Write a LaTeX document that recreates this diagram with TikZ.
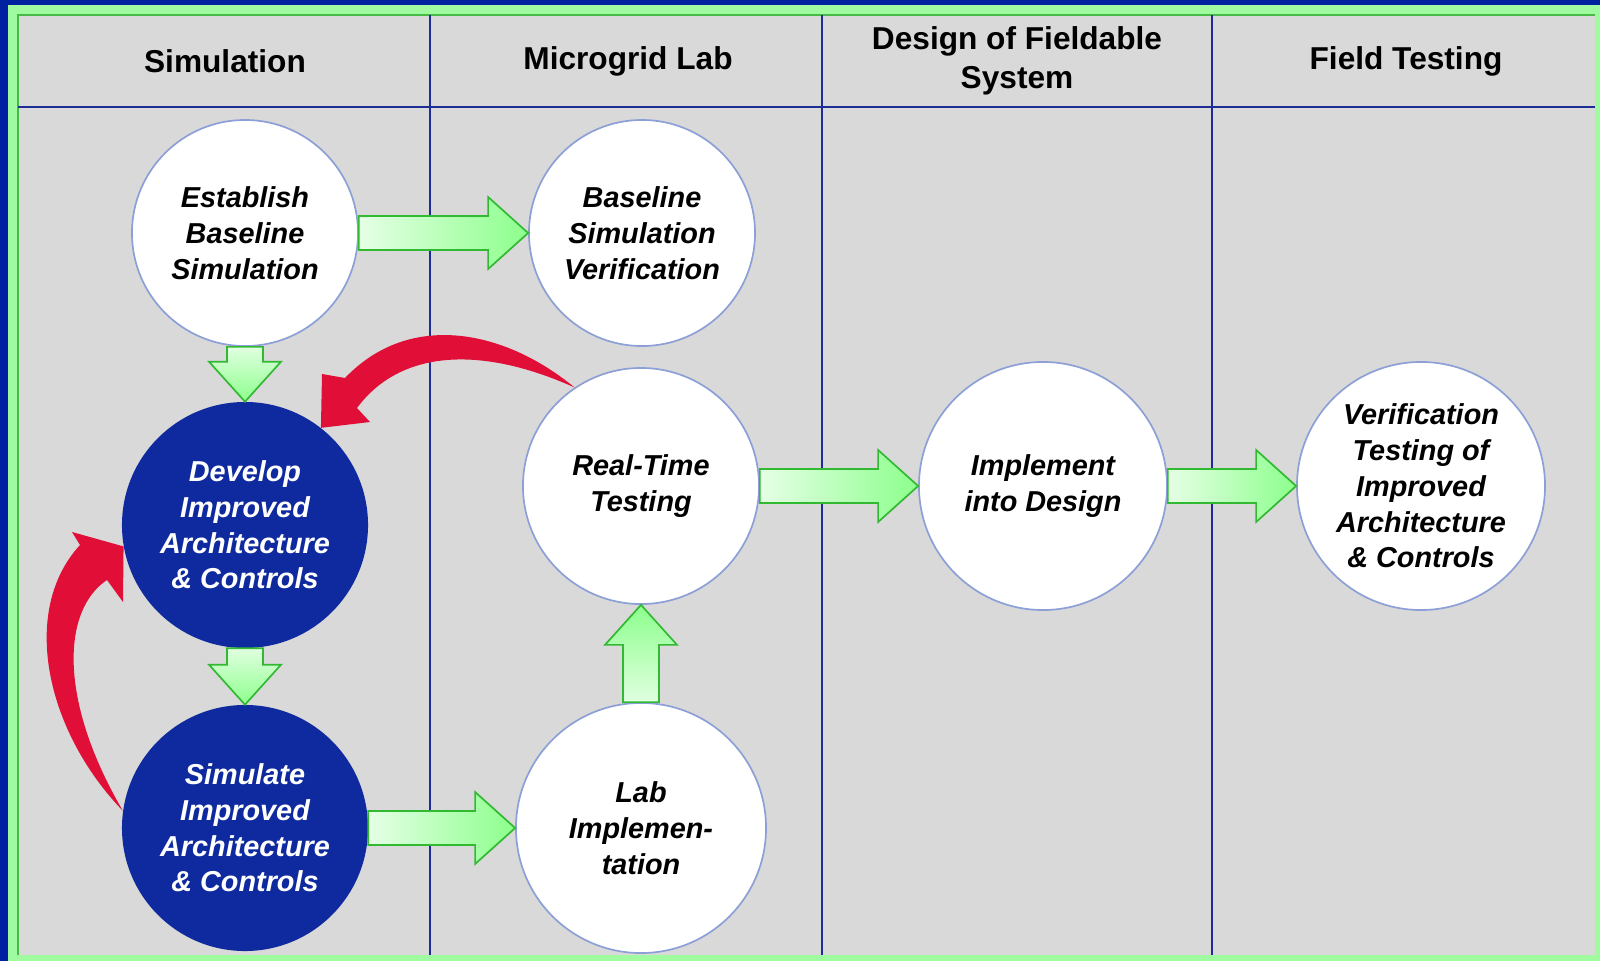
\documentclass[tikz,border=0pt]{standalone}
\usepackage{fontspec}
\setmainfont{Liberation Sans}
\usetikzlibrary{calc}
\definecolor{frameblue}{RGB}{0,34,160}
\definecolor{framegreen}{RGB}{160,250,160}
\definecolor{lanegray}{RGB}{217,217,217}
\definecolor{laneline}{RGB}{30,45,150}
\definecolor{ringblue}{RGB}{140,160,215}
\definecolor{ballblue}{RGB}{14,42,158}
\definecolor{ballrim}{RGB}{55,95,215}
\definecolor{arrowgreen}{RGB}{50,185,50}
\definecolor{loopred}{RGB}{225,15,55}
\pgfdeclareradialshading{whiteball}{\pgfpoint{0bp}{0bp}}{color(0bp)=(white); color(30bp)=(white); color(44bp)=(gray!8); color(50bp)=(gray!28)}
\pgfdeclareradialshading{blueball}{\pgfpoint{0bp}{0bp}}{color(0bp)=(ballblue); color(36bp)=(ballblue); color(46bp)=(ballrim); color(50bp)=(ballrim!75!white)}
\tikzset{
  lane/.style={draw=laneline, line width=1.6pt},
  header/.style={font=\fontsize{22.5}{27.5}\selectfont\bfseries, align=center},
  stepwhite/.style={circle, draw=ringblue, line width=1.2pt, shading=whiteball, align=center, inner sep=0pt, font=\fontsize{20.5}{25.4}\selectfont\bfseries\itshape},
  stepblue/.style={circle, shading=blueball, text=white, align=center, inner sep=0pt, font=\fontsize{20.5}{25.4}\selectfont\bfseries\itshape},
  blockarrow/.style={draw=arrowgreen, line width=1.2pt, line join=miter},
  redloop/.style={fill=loopred}
}
% green block arrows: start point, tip
\newcommand{\rightblock}[2]{%
  \draw[blockarrow, left color=green!10, right color=green!45] ($(#1)+(0,-17)$) -- ($(#2)+(-40,-17)$) -- ($(#2)+(-40,-36)$) -- (#2) -- ($(#2)+(-40,36)$) -- ($(#2)+(-40,17)$) -- ($(#1)+(0,17)$) -- cycle;}
\newcommand{\downblock}[2]{%
  \draw[blockarrow, top color=green!12, bottom color=green!45] ($(#1)+(-18,0)$) -- ($(#2)+(-18,-40)$) -- ($(#2)+(-36,-40)$) -- (#2) -- ($(#2)+(36,-40)$) -- ($(#2)+(18,-40)$) -- ($(#1)+(18,0)$) -- cycle;}
\newcommand{\upblock}[2]{%
  \draw[blockarrow, bottom color=green!12, top color=green!45] ($(#1)+(-18,0)$) -- ($(#2)+(-18,40)$) -- ($(#2)+(-36,40)$) -- (#2) -- ($(#2)+(36,40)$) -- ($(#2)+(18,40)$) -- ($(#1)+(18,0)$) -- cycle;}

\begin{document}
\begin{tikzpicture}[x=0.025cm,y=-0.025cm]
  \useasboundingbox (0,0) rectangle (1600,961);
  % frame and lanes
  \fill[frameblue] (0,0) rectangle (1600,961);
  \fill[framegreen] (8,5) rectangle (1600,961);
  \fill[lanegray] (18,15) rectangle (1595,955);
  \draw[green!45!gray, line width=1pt] (18,955) -- (18,15) -- (1595,15);
  \draw[lane] (18,107) -- (1595,107);
  \draw[lane] (430,15) -- (430,955);
  \draw[lane] (822,15) -- (822,955);
  \draw[lane] (1212,15) -- (1212,955);

  \node[header] (hsim) at (225,61) {Simulation};
  \node[header] (hlab) at (628,61) {Microgrid Lab};
  \node[header] (hdes) at (1017,61) {Design of Fieldable\\System};
  \node[header] (hfield) at (1406,61) {Field Testing};

  \node[stepwhite, minimum size=5.65cm] (est) at (245,233) {Establish\\Baseline\\Simulation};
  \node[stepwhite, minimum size=5.65cm] (basever) at (642,233) {Baseline\\Simulation\\Verification};
  \node[stepblue, minimum size=6.15cm] (develop) at (245,525) {Develop\\Improved\\Architecture\\\& Controls};
  \node[stepblue, minimum size=6.15cm] (simulate) at (245,828) {Simulate\\Improved\\Architecture\\\& Controls};
  \node[stepwhite, minimum size=5.9cm] (rtt) at (641,486) {Real-Time\\Testing};
  \node[stepwhite, minimum size=6.25cm] (labimpl) at (641,828) {Lab\\Implemen-\\tation};
  \node[stepwhite, minimum size=6.2cm] (implement) at (1043,486) {Implement\\into Design};
  \node[stepwhite, minimum size=6.2cm] (verif) at (1421,486) {Verification\\Testing of\\Improved\\Architecture\\\& Controls};

  \rightblock{est.east}{basever.west}
  \downblock{est.south}{develop.north}
  \downblock{develop.south}{simulate.north}
  \rightblock{simulate.east}{labimpl.west}
  \upblock{labimpl.north}{rtt.south}
  \rightblock{rtt.east}{implement.west}
  \rightblock{implement.east}{verif.west}

  % feedback loops
  \fill[redloop] (rtt.124) .. controls (505,330) and (410,310) .. (345,378) -- (322,374) -- (develop.52) -- (370,422) -- (357,408) .. controls (400,350) and (480,345) .. (rtt.124);
  \fill[redloop] (simulate.172) .. controls (45,730) and (20,610) .. (80,545) -- (72,532) -- (develop.190) -- (123,602) -- (107,580) .. controls (62,610) and (58,700) .. (simulate.172);
\end{tikzpicture}
\end{document}
